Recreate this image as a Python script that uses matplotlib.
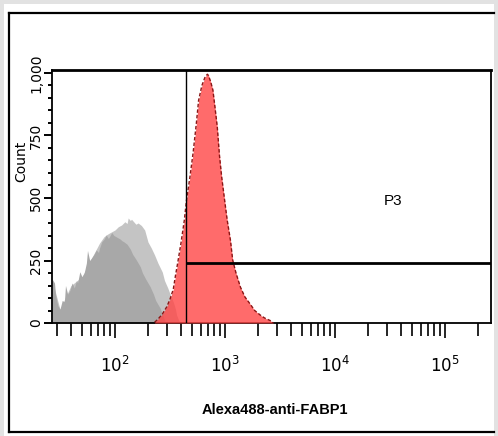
import matplotlib
matplotlib.use('Agg')
import matplotlib.pyplot as plt
from matplotlib import font_manager
from matplotlib.lines import Line2D
from matplotlib.patches import Rectangle
from matplotlib.ticker import FixedLocator, LogLocator, NullFormatter, MultipleLocator
import numpy as np

# ── data (log10 intensity, count) ──────────────────────────────────
gray_dark_lx = [1.43, 1.45, 1.46, 1.48, 1.50, 1.52, 1.54, 1.55, 1.57, 1.59,
                1.61, 1.63, 1.65, 1.66, 1.68, 1.70, 1.72, 1.74, 1.75, 1.77,
                1.79, 1.81, 1.83, 1.85, 1.86, 1.88, 1.90, 1.92, 1.94, 1.95,
                1.97, 1.99, 2.01, 2.03, 2.05, 2.06, 2.08, 2.11, 2.14, 2.16,
                2.19, 2.23, 2.25, 2.28, 2.32, 2.35, 2.37, 2.41, 2.44, 2.46]
gray_dark_ct = [175, 160, 110, 70, 55, 90, 85, 150, 115, 130,
                160, 140, 170, 160, 205, 185, 200, 240, 290, 250,
                262, 275, 292, 282, 300, 325, 335, 352, 338, 345,
                362, 350, 345, 340, 335, 330, 325, 315, 295, 275,
                255, 225, 200, 175, 145, 115, 90, 60, 25, 0]

gray_light_lx = [1.43, 1.50, 1.60, 1.70, 1.80, 1.86, 1.90, 1.92, 1.95, 2.00,
                 2.03, 2.06, 2.09, 2.11, 2.12, 2.14, 2.15, 2.17, 2.19, 2.21,
                 2.24, 2.27, 2.30, 2.33, 2.36, 2.39, 2.43, 2.45, 2.48, 2.51,
                 2.53, 2.55, 2.56, 2.58, 2.60]
gray_light_ct = [170, 55, 150, 185, 270, 320, 345, 352, 360, 372,
                 385, 392, 405, 398, 420, 410, 415, 405, 395, 400,
                 390, 372, 324, 300, 272, 240, 204, 170, 140, 105,
                 84, 55, 32, 10, 0]

red_lx = [2.36, 2.39, 2.43, 2.45, 2.47, 2.50, 2.53, 2.55, 2.57, 2.60,
          2.63, 2.65, 2.68, 2.71, 2.74, 2.76, 2.79, 2.82, 2.84, 2.85,
          2.87, 2.89, 2.91, 2.93, 2.95, 2.97, 3.00, 3.02, 3.05, 3.07,
          3.10, 3.14, 3.18, 3.23, 3.27, 3.32, 3.36, 3.41, 3.44]
red_ct = [3, 15, 35, 50, 64, 95, 135, 190, 240, 320,
          410, 490, 580, 680, 800, 890, 950, 985, 995, 990,
          965, 932, 860, 784, 670, 584, 480, 412, 330, 252,
          200, 144, 105, 75, 50, 32, 20, 10, 0]

gate_x = 442        # vertical gate position
gate_count = 240    # P3 lower bound
p3_pos = (33600, 490)

yticks = [0, 250, 500, 750, 1000]
ytick_labels = ['0', '250', '500', '750', '1,000']
xticks = [1e2, 1e3, 1e4, 1e5]
xtick_labels = [r'$\mathregular{10^{2}}$', r'$\mathregular{10^{3}}$',
                r'$\mathregular{10^{4}}$', r'$\mathregular{10^{5}}$']

# narrow font if available
names = {f.name for f in font_manager.fontManager.ttflist}
narrow = 'Liberation Sans Narrow' if 'Liberation Sans Narrow' in names else 'Liberation Sans'
plt.rcParams['mathtext.fontset'] = 'custom'
plt.rcParams['mathtext.rm'] = narrow
plt.rcParams['mathtext.it'] = narrow

W, H = 498, 436
fig = plt.figure(figsize=(W / 100, H / 100), dpi=100, facecolor='#e2e2e2')

# white panel + black frame
fig.add_artist(Rectangle((4 / W, 0), 490 / W, 1 - 4 / H, transform=fig.transFigure,
                         facecolor='white', edgecolor='none', zorder=-5))
for xs, ys in [((9, 494), (13, 13)), ((9, 9), (13, 432)), ((9, 494), (432, 432))]:
    fig.add_artist(Line2D([x / W for x in xs], [1 - y / H for y in ys],
                          transform=fig.transFigure, color='black', lw=1.6))

ax = fig.add_axes([52 / W, 1 - 323 / H, 439 / W, 253 / H])
ax.set_xscale('log')
ax.set_xlim(26.75, 262144)
ax.set_ylim(0, 1012)

ax.fill_between(10 ** np.array(gray_light_lx), gray_light_ct, color='#c4c4c4', lw=0, zorder=1)
ax.fill_between(10 ** np.array(gray_dark_lx), gray_dark_ct, color='#a8a8a8', lw=0, zorder=2)
ax.fill_between(10 ** np.array(red_lx), red_ct, color='#ff4646', alpha=0.8, lw=0, zorder=3)
ax.plot(10 ** np.array(red_lx), red_ct, color='#8a1515', lw=1.0, ls=(0, (2.5, 1.5)), zorder=4)

# P3 gate
ax.axvline(gate_x, color='black', lw=1.0, zorder=5)
ax.plot([gate_x, 262144], [gate_count, gate_count], color='black', lw=2.0, zorder=5,
        solid_capstyle='butt')
ax.text(p3_pos[0], p3_pos[1], 'P3', fontsize=11, family=narrow, ha='center', va='center')

for s in ax.spines.values():
    s.set_linewidth(1.3)
ax.spines['top'].set_linewidth(2.0)

ax.yaxis.set_major_locator(FixedLocator(yticks))
ax.set_yticklabels(ytick_labels, rotation=90, va='center', fontsize=10)
ax.yaxis.set_minor_locator(MultipleLocator(50))
ax.tick_params(axis='y', which='major', direction='out', length=6, width=1.4, pad=0.5)
ax.tick_params(axis='y', which='minor', direction='out', length=3, width=1.4)

ax.xaxis.set_major_locator(FixedLocator(xticks))
ax.set_xticklabels(xtick_labels, fontsize=12)
ax.xaxis.set_minor_locator(LogLocator(base=10, subs=np.arange(2, 10), numticks=20))
ax.xaxis.set_minor_formatter(NullFormatter())
ax.tick_params(axis='x', which='major', direction='out', length=11, width=1.2, pad=13)
ax.tick_params(axis='x', which='minor', direction='out', length=9, width=1.2)

ax.set_ylabel('Count', fontsize=10)
ax.yaxis.set_label_coords(-0.053, 0.64)
fig.text(275 / W, 1 - 410 / H, 'Alexa488-anti-FABP1', family=narrow, fontweight='bold',
         fontsize=10.5, ha='center', va='center')

fig.savefig('out.png', dpi=100, facecolor=fig.get_facecolor())
